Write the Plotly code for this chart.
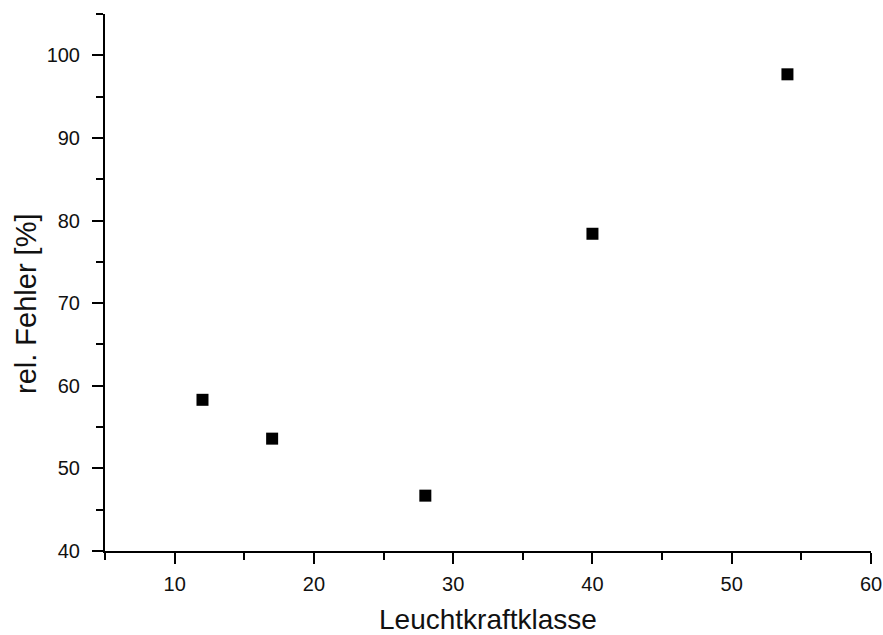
import plotly.graph_objects as go

# Luminosity class vs. relative error
leuchtkraftklasse = [12, 17, 28, 40, 54]
rel_fehler = [58.3, 53.6, 46.7, 78.4, 97.7]

x_ticks = [10, 20, 30, 40, 50, 60]
y_ticks = [40, 50, 60, 70, 80, 90, 100]
x_minor = [5, 15, 25, 35, 45, 55]
y_minor = [45, 55, 65, 75, 85, 95, 105]

font_family = "Liberation Sans, Arial, sans-serif"

fig = go.Figure(
    go.Scatter(
        x=leuchtkraftklasse,
        y=rel_fehler,
        mode="markers",
        marker=dict(symbol="square", size=12, color="black", line=dict(width=0)),
        showlegend=False,
    )
)

axis_common = dict(
    showgrid=False,
    zeroline=False,
    showline=True,
    linecolor="black",
    linewidth=2,
    ticks="outside",
    ticklen=11,
    tickwidth=2,
    tickcolor="black",
    tickfont=dict(family=font_family, size=20, color="#111"),
    mirror=False,
    automargin=False,
)

fig.update_xaxes(
    range=[5, 60],
    tickvals=x_ticks,
    ticklabelstandoff=3,
    minor=dict(tickvals=x_minor, ticks="outside", ticklen=7,
               tickwidth=2, tickcolor="black"),
    title=dict(text="Leuchtkraftklasse", font=dict(family=font_family, size=28, color="#111"),
               standoff=16),
    **axis_common,
)
fig.update_yaxes(
    range=[40, 105],
    tickvals=y_ticks,
    ticklabelstandoff=8,
    minor=dict(tickvals=y_minor, ticks="outside", ticklen=7,
               tickwidth=2, tickcolor="black"),
    **axis_common,
)

# y-axis title placed as a rotated annotation, slightly below the plot's mid-height
fig.add_annotation(
    text="rel. Fehler [%]",
    xref="paper", yref="paper",
    x=-0.1031, y=0.46,
    xanchor="center", yanchor="middle",
    textangle=-90,
    showarrow=False,
    font=dict(family=font_family, size=29, color="#111"),
)

fig.update_layout(
    width=883,
    height=635,
    margin=dict(l=105, r=12, t=14, b=84),
    plot_bgcolor="white",
    paper_bgcolor="white",
)

fig.write_html("out.html")
